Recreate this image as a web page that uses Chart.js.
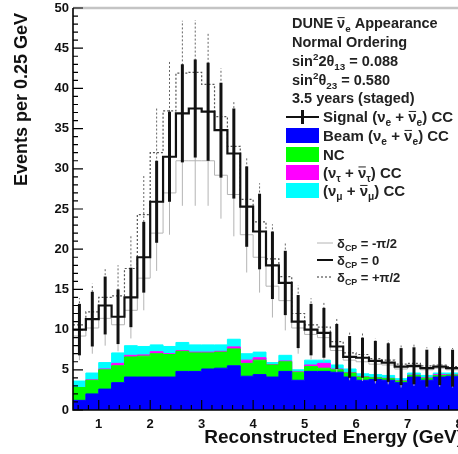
<!DOCTYPE html>
<html>
<head>
<meta charset="utf-8">
<script src="https://cdn.jsdelivr.net/npm/chart.js@4.4.1/dist/chart.umd.min.js"></script>
<style>
  html, body { margin: 0; padding: 0; background: #fff; overflow: hidden; }
  #wrap { width: 464px; height: 454px; position: relative; }
</style>
</head>
<body>
<div id="wrap"><canvas id="c" width="464" height="454"></canvas></div>
<script>
// Reconstructed energy bins (GeV): centres of 0.25 GeV wide bins
const binCenters = [0.625, 0.875, 1.125, 1.375, 1.625, 1.875, 2.125, 2.375, 2.625, 2.875,
                    3.125, 3.375, 3.625, 3.875, 4.125, 4.375, 4.625, 4.875, 5.125, 5.375,
                    5.625, 5.875, 6.125, 6.375, 6.625, 6.875, 7.125, 7.375, 7.625, 7.875];
const binHalfWidth = 0.125;

// Background components (events per bin), stacked bottom to top
const beamNue = [1.2, 2.0, 2.6, 3.4, 4.1, 4.1, 4.1, 4.1, 4.8, 4.8, 5.1, 5.2, 5.5, 4.2, 4.4,
                 4.1, 4.8, 3.7, 4.8, 4.8, 4.7, 4.1, 3.7, 3.8, 3.7, 3.4, 4.1, 3.7, 4.1, 4.2];
const ncBkg = [1.6, 1.7, 2.4, 2.1, 2.5, 2.6, 2.9, 2.8, 2.5, 2.3, 2.0, 2.0, 2.1, 1.6, 1.8,
               1.5, 1.2, 1.0, 0.6, 0.4, 0.3, 0.5, 0.4, 0.2, 0.2, 0.2, 0.2, 0.25, 0.2, 0.15];
const nutauCC = [0.0, 0.05, 0.1, 0.3, 0.2, 0.15, 0.25, 0.1, 0.1, 0.1, 0.1, 0.1, 0.25, 0.4, 0.3,
                 0.05, 0.1, 0.05, 0.2, 0.6, 0.1, 0.05, 0.05, 0.05, 0.05, 0.05, 0.05, 0.05, 0.1, 0.05];
const numuCC = [0.8, 0.85, 0.8, 1.3, 1.2, 1.05, 0.85, 0.9, 1.0, 0.9, 0.9, 0.8, 0.95, 0.8, 0.7,
                0.25, 0.7, 0.25, 0.6, 0.4, 0.5, 0.45, 0.35, 0.35, 0.35, 0.25, 0.25, 0.3, 0.2, 0.2];

// Signal + background totals for three values of delta_CP
const totalDcp0 = [10.0, 11.3, 13.0, 11.6, 14.0, 19.0, 25.9, 31.5, 36.9, 37.5, 37.1, 34.8, 31.9, 25.3, 22.2,
                   18.0, 15.8, 11.0, 10.0, 9.6, 7.9, 6.6, 6.5, 6.1, 5.9, 5.4, 5.5, 5.2, 5.4, 5.2];
const totalDcpMinus = [9.2, 10.2, 11.4, 10.6, 12.4, 16.4, 22.0, 27.0, 31.0, 31.0, 31.0, 29.2, 26.8, 21.8, 19.0,
                       15.4, 13.6, 10.2, 9.4, 9.0, 7.4, 6.2, 6.0, 5.7, 5.6, 5.1, 5.3, 5.0, 5.2, 5.0];
const totalDcpPlus = [10.6, 12.2, 14.0, 14.2, 17.6, 24.3, 32.0, 37.2, 41.9, 42.0, 40.5, 36.5, 32.8, 26.2, 23.4,
                      18.8, 16.6, 12.0, 10.6, 10.3, 8.5, 7.1, 6.9, 6.4, 6.2, 5.7, 5.8, 5.5, 5.6, 5.4];

// Statistical uncertainties (half lengths of the error bars)
const errDcp0 = [3.2, 3.4, 3.6, 3.4, 3.7, 4.4, 5.1, 5.6, 6.1, 6.1, 6.1, 5.9, 5.6, 5.0, 4.7,
                 4.2, 4.0, 3.3, 3.2, 3.1, 2.8, 2.6, 2.5, 2.5, 2.4, 2.3, 2.3, 2.3, 2.3, 2.3];
const errDcpMinus = [3.0, 3.2, 3.4, 3.3, 3.5, 4.0, 4.7, 5.2, 5.6, 5.6, 5.6, 5.4, 5.2, 4.7, 4.4,
                     3.9, 3.7, 3.2, 3.1, 3.0, 2.7, 2.5, 2.4, 2.4, 2.4, 2.3, 2.3, 2.2, 2.3, 2.2];
const errDcpPlus = [3.3, 3.5, 3.7, 3.8, 4.2, 4.9, 5.7, 6.1, 6.5, 6.5, 6.4, 6.0, 5.7, 5.1, 4.8,
                    4.3, 4.1, 3.5, 3.3, 3.2, 2.9, 2.7, 2.6, 2.5, 2.5, 2.4, 2.4, 2.3, 2.4, 2.3];

const xTickValues = [1, 2, 3, 4, 5, 6, 7, 8];
const yTickValues = [0, 5, 10, 15, 20, 25, 30, 35, 40, 45, 50];

const COL = { beam: '#0000ff', nc: '#00ff00', nutau: '#ff00ff', numu: '#00ffff' };
const FONT = '"Liberation Sans", Arial, Helvetica, sans-serif';

// Step-histogram points: one point per bin's low edge, plus the final upper edge
function histPoints(vals) {
  const pts = vals.map((v, i) => ({ x: binCenters[i] - binHalfWidth, y: v }));
  const last = vals.length - 1;
  pts.push({ x: binCenters[last] + binHalfWidth, y: vals[last] });
  return pts;
}
function addArrays(...arrs) {
  return arrs[0].map((_, i) => arrs.reduce((s, a) => s + a[i], 0));
}
const cumBeam = beamNue;
const cumNC = addArrays(beamNue, ncBkg);
const cumTau = addArrays(beamNue, ncBkg, nutauCC);
const cumMu = addArrays(beamNue, ncBkg, nutauCC, numuCC);

const lineBase = { stepped: true, pointRadius: 0, tension: 0, fill: false };

const datasets = [
  Object.assign({ label: 'dcp0', data: histPoints(totalDcp0), borderColor: '#111', borderWidth: 2.2 }, lineBase),
  Object.assign({ label: 'dcpPlus', data: histPoints(totalDcpPlus), borderColor: '#555', borderWidth: 1.2, borderDash: [2, 2] }, lineBase),
  Object.assign({ label: 'dcpMinus', data: histPoints(totalDcpMinus), borderColor: '#b4b4b4', borderWidth: 1 }, lineBase),
  Object.assign({}, lineBase, { label: 'beam', data: histPoints(cumBeam), borderColor: COL.beam, borderWidth: 1, backgroundColor: COL.beam, fill: 'origin' }),
  Object.assign({}, lineBase, { label: 'nc', data: histPoints(cumNC), borderColor: COL.nc, borderWidth: 1, backgroundColor: COL.nc, fill: '-1' }),
  Object.assign({}, lineBase, { label: 'nutau', data: histPoints(cumTau), borderColor: COL.nutau, borderWidth: 1, backgroundColor: COL.nutau, fill: '-1' }),
  Object.assign({}, lineBase, { label: 'numu', data: histPoints(cumMu), borderColor: COL.numu, borderWidth: 1, backgroundColor: COL.numu, fill: '-1' })
];

// Draw rich text: segments of [text, mode] with mode 0 normal, 1 subscript, 2 superscript, 'bar' overlined
function drawRich(ctx, x, yc, segs, size, weight, color) {
  const base = yc + size * 0.35;
  ctx.save();
  ctx.fillStyle = color;
  ctx.strokeStyle = color;
  ctx.textBaseline = 'alphabetic';
  ctx.textAlign = 'left';
  let cx = x;
  for (const [t, mode] of segs) {
    let s = size, dy = 0;
    if (mode === 1) { s = size * 0.68; dy = size * 0.28; }
    if (mode === 2) { s = size * 0.68; dy = -size * 0.42; }
    ctx.font = weight + ' ' + s + 'px ' + FONT;
    ctx.fillText(t, cx, base + dy);
    const w = ctx.measureText(t).width;
    if (mode === 'bar') {
      ctx.lineWidth = 1;
      ctx.beginPath();
      ctx.moveTo(cx + 0.5, base - size * 0.72);
      ctx.lineTo(cx + w - 0.5, base - size * 0.72);
      ctx.stroke();
    }
    cx += w;
  }
  ctx.restore();
}

const errorBars = {
  id: 'errorBars',
  afterDatasetsDraw(chart) {
    const { ctx, chartArea: a, scales: { x, y } } = chart;
    ctx.save();
    ctx.beginPath();
    ctx.rect(a.left, a.top, a.right - a.left, a.bottom - a.top);
    ctx.clip();
    const sets = [
      { vals: totalDcpMinus, errs: errDcpMinus, color: '#b4b4b4', width: 1, dash: [] },
      { vals: totalDcpPlus, errs: errDcpPlus, color: '#666', width: 1, dash: [2, 2] },
      { vals: totalDcp0, errs: errDcp0, color: '#111', width: 3, dash: [] }
    ];
    for (const s of sets) {
      ctx.strokeStyle = s.color;
      ctx.lineWidth = s.width;
      ctx.setLineDash(s.dash);
      s.vals.forEach((v, i) => {
        const px = x.getPixelForValue(binCenters[i]);
        ctx.beginPath();
        ctx.moveTo(px, y.getPixelForValue(v - s.errs[i]));
        ctx.lineTo(px, y.getPixelForValue(v + s.errs[i]));
        ctx.stroke();
      });
    }
    ctx.restore();
  }
};

const frameAndText = {
  id: 'frameAndText',
  afterDraw(chart) {
    const { ctx, chartArea: a, scales: { x, y } } = chart;
    ctx.save();
    // top frame edge
    ctx.strokeStyle = '#c4c4c4';
    ctx.lineWidth = 2.5;
    ctx.beginPath();
    ctx.moveTo(a.left, a.top);
    ctx.lineTo(chart.width, a.top);
    ctx.stroke();
    // axis lines
    ctx.strokeStyle = '#000';
    ctx.lineWidth = 1.6;
    ctx.beginPath();
    ctx.moveTo(a.left, a.top);
    ctx.lineTo(a.left, a.bottom);
    ctx.lineTo(chart.width, a.bottom);
    ctx.stroke();
    // inward tick marks on the y axis
    ctx.lineWidth = 1.2;
    ctx.beginPath();
    for (let v = 0; v <= 50; v += 1) {
      const py = y.getPixelForValue(v);
      const len = v % 5 === 0 ? 10 : 5;
      ctx.moveTo(a.left, py);
      ctx.lineTo(a.left + len, py);
    }
    // inward tick marks on the x axis
    for (let k = 3; k <= 40; k += 1) {
      const v = k * 0.2;
      const px = x.getPixelForValue(v);
      const len = k % 5 === 0 ? 10 : 5;
      ctx.moveTo(px, a.bottom);
      ctx.lineTo(px, a.bottom - len);
    }
    ctx.stroke();

    // axis titles
    ctx.fillStyle = '#111';
    ctx.font = 'bold 19px ' + FONT;
    ctx.textAlign = 'right';
    ctx.textBaseline = 'middle';
    ctx.fillText('Reconstructed Energy (GeV)', 463, 438);
    ctx.font = 'bold 18px ' + FONT;
    ctx.save();
    ctx.translate(22, 13);
    ctx.rotate(-Math.PI / 2);
    ctx.fillText('Events per 0.25 GeV', 0, 0);
    ctx.restore();

    // header text block
    const tc = '#222';
    const hs = 14.5;
    const ls = 15;
    drawRich(ctx, 292, 23, [['DUNE ', 0], ['ν', 'bar'], ['e', 1], [' Appearance', 0]], hs, 'bold', tc);
    drawRich(ctx, 292, 42, [['Normal Ordering', 0]], hs, 'bold', tc);
    drawRich(ctx, 292, 61, [['sin', 0], ['2', 2], ['2θ', 0], ['13', 1], [' = 0.088', 0]], hs, 'bold', tc);
    drawRich(ctx, 292, 80, [['sin', 0], ['2', 2], ['θ', 0], ['23', 1], [' = 0.580', 0]], hs, 'bold', tc);
    drawRich(ctx, 292, 98, [['3.5 years (staged)', 0]], hs, 'bold', tc);

    // component legend
    ctx.strokeStyle = '#111';
    ctx.lineWidth = 2;
    ctx.beginPath();
    ctx.moveTo(286, 117); ctx.lineTo(319, 117);
    ctx.stroke();
    ctx.lineWidth = 3;
    ctx.beginPath();
    ctx.moveTo(302.5, 110); ctx.lineTo(302.5, 124);
    ctx.stroke();
    const boxes = [[COL.beam, 128], [COL.nc, 147], [COL.nutau, 165], [COL.numu, 183]];
    for (const [c, by] of boxes) {
      ctx.fillStyle = c;
      ctx.fillRect(286, by, 33, 15);
    }
    const lx = 323;
    drawRich(ctx, lx, 117, [['Signal (', 0], ['ν', 0], ['e', 1], [' + ', 0], ['ν', 'bar'], ['e', 1], [') CC', 0]], ls, 'bold', tc);
    drawRich(ctx, lx, 136, [['Beam (', 0], ['ν', 0], ['e', 1], [' + ', 0], ['ν', 'bar'], ['e', 1], [') CC', 0]], ls, 'bold', tc);
    drawRich(ctx, lx, 154.5, [['NC', 0]], ls, 'bold', tc);
    drawRich(ctx, lx, 172.5, [['(', 0], ['ν', 0], ['τ', 1], [' + ', 0], ['ν', 'bar'], ['τ', 1], [') CC', 0]], ls, 'bold', tc);
    drawRich(ctx, lx, 191, [['(', 0], ['ν', 0], ['μ', 1], [' + ', 0], ['ν', 'bar'], ['μ', 1], [') CC', 0]], ls, 'bold', tc);

    // delta_CP legend
    const dl = [
      { y: 243, color: '#b4b4b4', w: 1, dash: [], txt: ' = -π/2' },
      { y: 260, color: '#111', w: 2, dash: [], txt: ' = 0' },
      { y: 277, color: '#555', w: 1.2, dash: [2, 2], txt: ' = +π/2' }
    ];
    for (const d of dl) {
      ctx.strokeStyle = d.color;
      ctx.lineWidth = d.w;
      ctx.setLineDash(d.dash);
      ctx.beginPath();
      ctx.moveTo(317, d.y); ctx.lineTo(333, d.y);
      ctx.stroke();
      ctx.setLineDash([]);
      drawRich(ctx, 337, d.y, [['δ', 0], ['CP', 1], [d.txt, 0]], 13, 'bold', tc);
    }
    ctx.restore();
  }
};

new Chart(document.getElementById('c'), {
  type: 'line',
  data: { datasets },
  plugins: [errorBars, frameAndText],
  options: {
    responsive: false,
    animation: false,
    devicePixelRatio: 1,
    layout: { padding: { left: 0, right: 5, top: 8, bottom: 0 } },
    plugins: { legend: { display: false }, tooltip: { enabled: false } },
    scales: {
      x: {
        type: 'linear',
        min: 0.5,
        max: 8,
        grid: { display: false, drawTicks: false },
        border: { display: false },
        afterBuildTicks: (s) => { s.ticks = xTickValues.map(v => ({ value: v })); },
        afterFit: (s) => { s.height = 44; s.paddingLeft = 0; s.paddingRight = 0; },
        ticks: {
          padding: 7,
          maxRotation: 0,
          autoSkip: false,
          color: '#111',
          font: { family: FONT, size: 13, weight: 'bold' },
          callback: (v) => String(v)
        }
      },
      y: {
        type: 'linear',
        min: 0,
        max: 50,
        grid: { display: false, drawTicks: false },
        border: { display: false },
        afterBuildTicks: (s) => { s.ticks = yTickValues.map(v => ({ value: v })); },
        afterFit: (s) => { s.width = 73; s.paddingTop = 0; s.paddingBottom = 0; },
        ticks: {
          padding: 4,
          autoSkip: false,
          color: '#111',
          font: { family: FONT, size: 13, weight: 'bold' },
          callback: (v) => String(v)
        }
      }
    }
  }
});
</script>
</body>
</html>
